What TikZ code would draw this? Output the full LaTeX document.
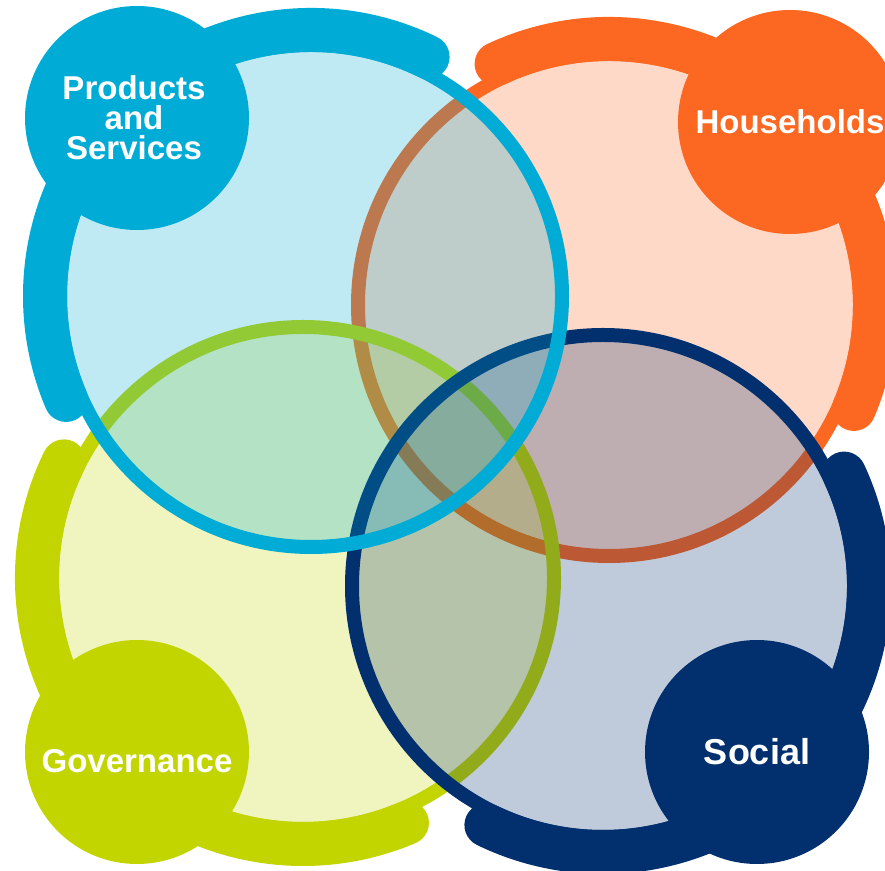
\documentclass[tikz,border=0pt]{standalone}
\usepackage{fontspec}
\setmainfont{Liberation Sans}
\usepackage{xcolor}
\usepackage{tikz}
\definecolor{psblue}{HTML}{00ABD5}
\definecolor{hhorange}{HTML}{FC6721}
\definecolor{govgreen}{HTML}{C3D500}
\definecolor{socnavy}{HTML}{022F6E}
\tikzset{
  ring/.style={circle,draw=#1,fill=#1,fill opacity=0.25,line width=14pt,minimum size=502pt,inner sep=0pt},
  band/.style={draw=#1,line width=44pt,line cap=round},
  badge/.style={circle,fill=#1,minimum size=224pt,inner sep=0pt},
  caption/.style={text=white,align=center,font=\fontsize{33}{30}\selectfont\bfseries},
}

\begin{document}
\begin{tikzpicture}[x=1pt,y=1pt]
    \useasboundingbox (0,0) rectangle (885,870);
    % households, top right
    \node[ring=hhorange] (hh) at (609,565) {};
    \draw[band=hhorange] (hh.center) ++(115:266) arc[start angle=115,end angle=-23,radius=266];
    \node[badge=hhorange] (hhlbl) at (790,748) {};
    \node[caption] (hhtxt) at (hhlbl) {Households};
    % governance, bottom left
    \node[ring=govgreen] (gov) at (303,292) {};
    \draw[band=govgreen] (gov.center) ++(154:266) arc[start angle=154,end angle=293,radius=266];
    \node[badge=govgreen] (govlbl) at (137,118) {};
    \node[caption] (govtxt) at ([yshift=-9pt]govlbl.center) {Governance};
    % social, bottom right
    \node[ring=socnavy] (soc) at (603,284) {};
    \draw[band=socnavy] (soc.center) ++(25:266) arc[start angle=25,end angle=-116,radius=266];
    \node[badge=socnavy] (soclbl) at (757,118) {};
    \node[caption,font=\fontsize{36}{36}\selectfont\bfseries] (soctxt) at (soclbl) {Social};
    % products and services, top left
    \node[ring=psblue] (ps) at (311,574) {};
    \draw[band=psblue] (ps.center) ++(64:266) arc[start angle=64,end angle=203,radius=266];
    \node[badge=psblue] (pslbl) at (137,752) {};
    \node[caption] (pstxt) at ([xshift=-3pt]pslbl.center) {Products\\and\\Services};
\end{tikzpicture}
\end{document}
